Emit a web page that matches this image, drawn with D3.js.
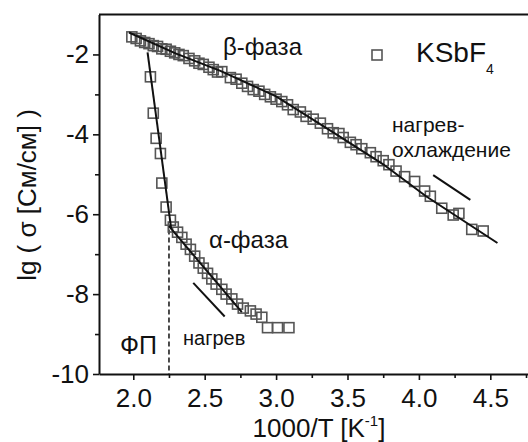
<!DOCTYPE html>
<html><head><meta charset="utf-8">
<script src="https://cdn.jsdelivr.net/npm/d3@7"></script>
<style>
body{margin:0;background:#fff;}
svg text{font-family:"Liberation Sans",Arial,sans-serif;fill:#111;}
</style></head>
<body><svg id="c" width="528" height="442"></svg>
<script>
// β-phase data (heating-cooling)
const betaX = [1.99,2.02,2.05,2.08,2.11,2.14,2.17,2.20,2.23,2.26,2.29,2.32,2.35,2.39,2.43,2.46,2.49,2.53,2.56,2.59,2.62,2.68,2.72,2.76,2.80,2.84,2.88,2.92,2.96,3.00,3.04,3.08,3.12,3.17,3.21,3.26,3.31,3.36,3.40,3.44,3.47,3.52,3.56,3.60,3.66,3.70,3.75,3.79,3.84,3.90,3.97,4.04,4.08,4.16,4.24,4.28,4.37,4.45];
const betaY = [-1.56,-1.60,-1.66,-1.70,-1.73,-1.78,-1.80,-1.86,-1.87,-1.92,-1.96,-2.00,-2.03,-2.10,-2.16,-2.22,-2.25,-2.32,-2.38,-2.44,-2.43,-2.58,-2.62,-2.72,-2.80,-2.88,-2.92,-3.00,-3.06,-3.12,-3.18,-3.26,-3.38,-3.44,-3.55,-3.62,-3.72,-3.86,-3.96,-3.98,-4.08,-4.20,-4.26,-4.36,-4.46,-4.56,-4.66,-4.76,-4.92,-5.06,-5.18,-5.42,-5.55,-5.85,-6.02,-5.98,-6.38,-6.42];
// α-phase data (heating)
const alphaX = [2.12,2.14,2.16,2.19,2.20,2.23,2.26,2.28,2.31,2.34,2.37,2.40,2.43,2.46,2.49,2.52,2.55,2.58,2.62,2.65,2.69,2.73,2.77,2.82,2.86,2.90,2.94,3.01,3.09];
const alphaY = [-2.56,-3.47,-4.10,-4.48,-5.22,-5.82,-6.15,-6.32,-6.45,-6.58,-6.75,-6.88,-7.05,-7.22,-7.35,-7.48,-7.62,-7.75,-7.88,-8.00,-8.12,-8.25,-8.35,-8.42,-8.50,-8.58,-8.84,-8.84,-8.84];
// fitted lines
const fitBetaX = [1.97,2.30,2.61,3.00,3.40,3.75,4.05,4.55];
const fitBetaY = [-1.45,-1.98,-2.41,-3.05,-3.95,-4.75,-5.55,-6.72];
const fitSteepX = [2.10,2.265];
const fitSteepY = [-1.95,-6.35];
const fitAlphaX = [2.25,2.76];
const fitAlphaY = [-6.30,-8.45];
// short guide strokes
const guideHCX = [4.10,4.36];
const guideHCY = [-5.02,-5.64];
const guideHX = [2.42,2.64];
const guideHY = [-7.72,-8.56];
const phaseTransitionX = 2.25;
const phaseTransitionTopY = -6.38;
// ticks
const xTicks = [2.0,2.5,3.0,3.5,4.0,4.5];
const xMinor = [2.25,2.75,3.25,3.75,4.25,4.75];
const yTicks = [-10,-8,-6,-4,-2];
const yMinor = [-9,-7,-5,-3];

const svg = d3.select("#c");
const x = d3.scaleLinear().domain([1.76,4.85]).range([99,540.3]);
const y = d3.scaleLinear().domain([-10,-1]).range([374,14.5]);

// frame top
svg.append("line").attr("x1",x(1.76)).attr("x2",528).attr("y1",y(-1)).attr("y2",y(-1))
  .attr("stroke","#111").attr("stroke-width",2);

// axes
const gx = svg.append("g").attr("transform",`translate(0,${y(-10)})`)
  .call(d3.axisBottom(x).tickValues(xTicks).tickFormat(d3.format(".1f")).tickSize(6).tickSizeOuter(0).tickPadding(9));
const gxm = svg.append("g").attr("transform",`translate(0,${y(-10)})`)
  .call(d3.axisBottom(x).tickValues(xMinor).tickFormat("").tickSize(4).tickSizeOuter(0));
gxm.select(".domain").remove();
const gy = svg.append("g").attr("transform",`translate(${x(1.76)},0)`)
  .call(d3.axisLeft(y).tickValues(yTicks).tickFormat(d3.format("d")).tickSize(6).tickSizeOuter(0).tickPadding(4));
const gym = svg.append("g").attr("transform",`translate(${x(1.76)},0)`)
  .call(d3.axisLeft(y).tickValues(yMinor).tickFormat("").tickSize(4).tickSizeOuter(0));
gym.select(".domain").remove();
svg.selectAll(".domain").attr("stroke","#111").attr("stroke-width",2);
svg.selectAll(".tick line").attr("stroke","#111").attr("stroke-width",1.6);
svg.selectAll(".tick text").attr("font-size",26).attr("fill","#111")
  .attr("font-family","Liberation Sans, Arial, sans-serif");
gy.selectAll(".tick text").text(d => d3.format("d")(d).replace("−","-"));

// axis titles
const xt = svg.append("text").attr("x",319).attr("y",437).attr("text-anchor","middle").attr("font-size",26);
xt.append("tspan").text("1000/T [K");
xt.append("tspan").attr("font-size",15).attr("dy",-11).text("-1");
xt.append("tspan").attr("dy",11).text("]");
svg.append("text").attr("transform","translate(36,195) rotate(-90)").attr("text-anchor","middle")
  .attr("font-size",26).text("lg ( σ [См/см] )");

const line = d3.line().x(d=>x(d[0])).y(d=>y(d[1]));
const zip = (a,b)=>a.map((v,i)=>[v,b[i]]);

// dashed phase transition
svg.append("line").attr("x1",x(phaseTransitionX)).attr("x2",x(phaseTransitionX))
  .attr("y1",y(phaseTransitionTopY)).attr("y2",y(-10)).attr("stroke","#111")
  .attr("stroke-width",1.5).attr("stroke-dasharray","5,3");

// squares
const sq = 10;
function squares(xs,ys){
  svg.append("g").selectAll("rect").data(zip(xs,ys)).join("rect")
    .attr("x",d=>x(d[0])-sq/2).attr("y",d=>y(d[1])-sq/2).attr("width",sq).attr("height",sq)
    .attr("fill","none").attr("stroke","#555").attr("stroke-width",1.6);
}
squares(betaX,betaY);
squares(alphaX,alphaY);

// fit lines
[[fitBetaX,fitBetaY],[fitSteepX,fitSteepY],[fitAlphaX,fitAlphaY],[guideHCX,guideHCY],[guideHX,guideHY]]
  .forEach(([a,b])=>svg.append("path").attr("d",line(zip(a,b))).attr("fill","none")
  .attr("stroke","#111").attr("stroke-width",2));

// labels
svg.append("text").attr("x",223).attr("y",55).attr("font-size",24).text("β-фаза");
svg.append("text").attr("x",209).attr("y",248).attr("font-size",24).text("α-фаза");
svg.append("text").attr("x",392).attr("y",132).attr("font-size",21).text("нагрев-");
svg.append("text").attr("x",392).attr("y",157).attr("font-size",21).text("охлаждение");
svg.append("text").attr("x",183).attr("y",345).attr("font-size",20).text("нагрев");
svg.append("text").attr("x",120).attr("y",354).attr("font-size",25).text("ФП");

// legend
svg.append("rect").attr("x",372).attr("y",50).attr("width",sq).attr("height",sq)
  .attr("fill","none").attr("stroke","#555").attr("stroke-width",1.6);
const lg = svg.append("text").attr("x",416).attr("y",62).attr("font-size",28);
lg.append("tspan").text("KSbF");
lg.append("tspan").attr("font-size",14).attr("dy",12).text("4");
</script></body></html>
